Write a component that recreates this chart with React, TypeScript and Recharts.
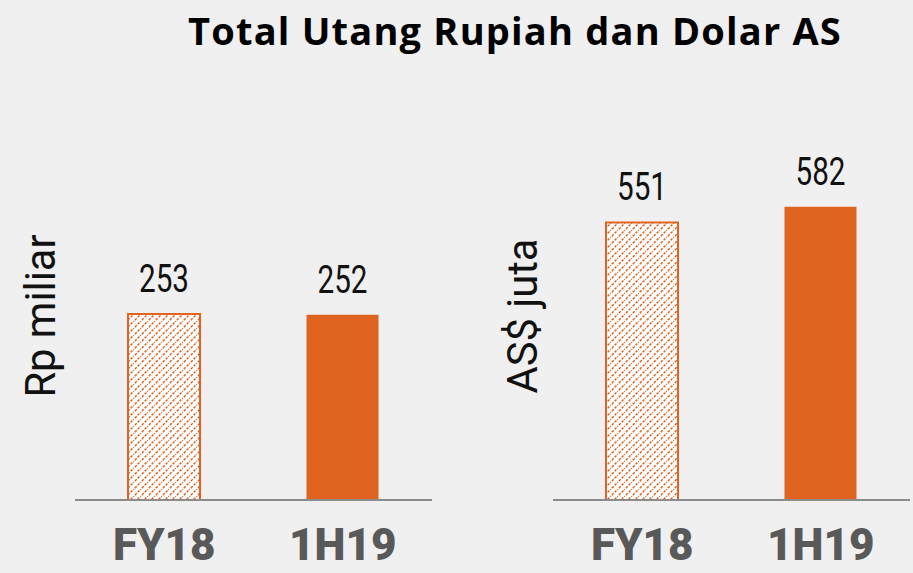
import { BarChart, Bar, XAxis, YAxis, Cell, LabelList } from 'recharts'

const periods = ['FY18', '1H19']
const rupiahDebt = [253, 252]
const dollarDebt = [551, 582]
const chartTitle = 'Total Utang Rupiah dan Dolar AS'
const leftUnit = 'Rp miliar'
const rightUnit = 'AS$ juta'

const ORANGE = '#E06420'

const rupiahData = periods.map((p, i) => ({ period: p, value: rupiahDebt[i] }))
const dollarData = periods.map((p, i) => ({ period: p, value: dollarDebt[i] }))

const ValueLabel = (props: any) => {
  const { x, y, width, value } = props
  const cx = x + width / 2
  const cy = y - 22
  return (
    <text
      transform={`translate(${cx},${cy}) scale(0.78,1)`}
      textAnchor="middle"
      fontFamily="Roboto"
      fontSize={38}
      fill="#111"
    >
      {value}
    </text>
  )
}

const Tick = (props: any) => {
  const { x, y, payload } = props
  return (
    <text x={x} y={y + 52} textAnchor="middle" fontFamily="Roboto" fontWeight={900} fontSize={44} fill="#595959">
      {payload.value}
    </text>
  )
}

const UnitLabel = (text: string, x: number) => () => (
  <text
    transform={`translate(${x},316) rotate(-90) scale(0.97,1)`}
    textAnchor="middle"
    fontFamily="Roboto"
    fontSize={43}
    fill="#111"
  >
    {text}
  </text>
)

function DebtChart({ id, data, max, left, unit, unitX }: any) {
  return (
    <BarChart
      width={456}
      height={573}
      data={data}
      margin={{ top: 100, right: 456 - 357 - left, left: 0, bottom: 0 }}
      barCategoryGap={0}
    >
      <defs>
        <pattern id={`hatch-${id}`} patternUnits="userSpaceOnUse" width="7" height="7">
          <rect width="7" height="7" fill="#fff" />
          <path d="M-1,8 L8,-1" stroke={ORANGE} strokeWidth={1.5} strokeDasharray="2.6 1.4" />
        </pattern>
      </defs>
      <XAxis
        dataKey="period"
        axisLine={{ stroke: '#8c8c8c', strokeWidth: 2 }}
        tickLine={false}
        height={73}
        interval={0}
        tick={<Tick />}
      />
      <YAxis
        width={left}
        domain={[0, max]}
        tick={false}
        axisLine={false}
        tickLine={false}
        label={{ content: UnitLabel(unit, unitX) }}
      />
      <Bar dataKey="value" barSize={72} isAnimationActive={false}>
        {data.map((_: any, i: number) => (
          <Cell
            key={i}
            fill={i === 0 ? `url(#hatch-${id})` : ORANGE}
            stroke={i === 0 ? ORANGE : 'none'}
            strokeWidth={2}
          />
        ))}
        <LabelList dataKey="value" content={<ValueLabel />} />
      </Bar>
    </BarChart>
  )
}

export default function App() {
  return (
    <div style={{ position: 'absolute', left: 0, top: 0, width: 913, height: 573, background: '#f0f0f0', overflow: 'hidden' }}>
      <div
        style={{
          position: 'absolute',
          top: 4,
          left: 180,
          width: 670,
          textAlign: 'center',
          fontFamily: 'Open Sans',
          fontWeight: 700,
          fontSize: 38,
          letterSpacing: 1.2,
          color: '#000',
          whiteSpace: 'nowrap',
        }}
      >
        {chartTitle}
      </div>
      <div style={{ position: 'absolute', left: 0, top: 0 }}>
        <DebtChart id="rp" data={rupiahData} max={544} left={75} unit={leftUnit} unitX={55} />
      </div>
      <div style={{ position: 'absolute', left: 456, top: 0 }}>
        <DebtChart id="usd" data={dollarData} max={794} left={97} unit={rightUnit} unitX={81} />
      </div>
    </div>
  )
}
